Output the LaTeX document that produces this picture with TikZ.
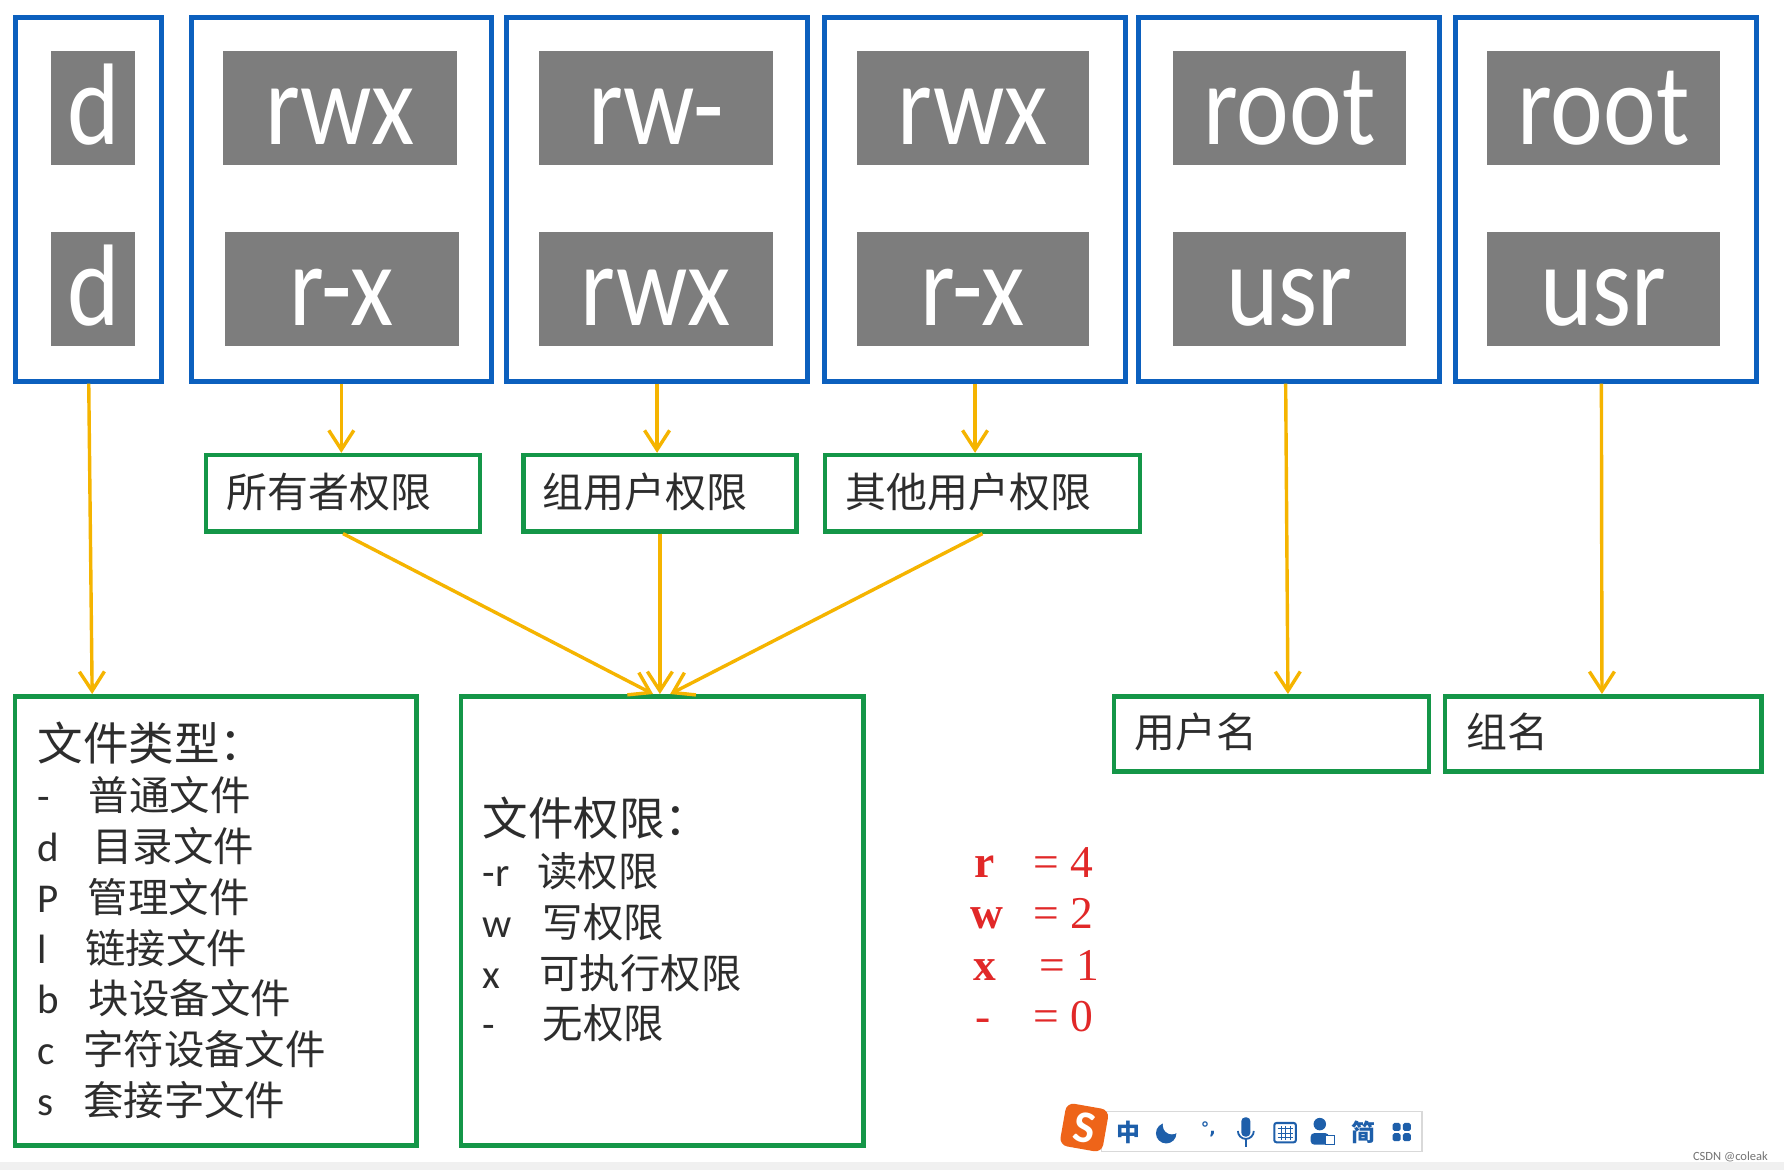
\documentclass[tikz,border=0pt]{standalone}
\usepackage{fontspec}
\setmainfont{Carlito}
\newfontfamily\cjk{Noto Sans CJK SC}
\newfontfamily\tms{Liberation Serif}
\newfontfamily\djv{DejaVu Sans}
\usetikzlibrary{fit,arrows.meta,calc}
\definecolor{bluec}{RGB}{12,96,190}
\definecolor{greenc}{RGB}{20,150,72}
\definecolor{greyc}{RGB}{125,125,125}
\definecolor{arrc}{RGB}{245,180,0}
\definecolor{txtc}{RGB}{45,45,45}
\definecolor{redc}{RGB}{225,40,40}
\definecolor{iconc}{RGB}{30,95,170}
\definecolor{sogou}{RGB}{238,100,25}
\tikzset{
  bluebox/.style={draw=bluec, line width=4.5pt, inner sep=0pt},
  greybox/.style={fill=greyc, inner sep=0pt},
  greenbox/.style={draw=greenc, line width=4pt, inner sep=0pt},
  gtext/.style={text=white, font=\fontsize{102}{102}\selectfont, inner sep=0pt, anchor=base},
  ctext/.style={text=txtc, inner sep=0pt, anchor=base west},
  cjk36/.style={ctext, font=\cjk\fontsize{36}{36}\selectfont},
  cjk40/.style={ctext, font=\cjk\fontsize{40}{40}\selectfont},
  cjk355/.style={ctext, font=\cjk\fontsize{35.5}{35.5}\selectfont},
  lat/.style={ctext, font=\fontsize{36}{36}\selectfont},
  redt/.style={text=redc, inner sep=0pt, anchor=base west, font=\tms\fontsize{40}{40}\selectfont},
  icontxt/.style={text=iconc, inner sep=0pt, font=\cjk\bfseries\fontsize{21}{21}\selectfont},
  arr/.style={draw=arrc, line width=3pt, -{Straight Barb[length=17pt,width=22pt]}}
}
\begin{document}
\begin{tikzpicture}[x=1pt,y=-1pt]
\useasboundingbox (0,0) rectangle (1568,1028.3);
\fill[white] (0,0) rectangle (1568,1028.3);
\fill[black!6] (0,1021) rectangle (1568,1028.3);

% blue outer boxes
\node[bluebox, fit={(14,15) (142,335)}] (b1) {};
\node[bluebox, fit={(168,15) (432,335)}] (b2) {};
\node[bluebox, fit={(445,15) (710,335)}] (b3) {};
\node[bluebox, fit={(725,15) (989,335)}] (b4) {};
\node[bluebox, fit={(1001,15) (1265,335)}] (b5) {};
\node[bluebox, fit={(1279,15) (1544,335)}] (b6) {};

% grey boxes
\node[greybox, fit={(45,45) (119,145)}] (g11) {};
\node[greybox, fit={(45,204) (119,304)}] (g12) {};
\node[greybox, fit={(196,45) (402,145)}] (g21) {};
\node[greybox, fit={(198,204) (403,304)}] (g22) {};
\node[greybox, fit={(474,45) (679,145)}] (g31) {};
\node[greybox, fit={(474,204) (679,304)}] (g32) {};
\node[greybox, fit={(753,45) (957,145)}] (g41) {};
\node[greybox, fit={(753,204) (957,304)}] (g42) {};
\node[greybox, fit={(1031,45) (1236,145)}] (g51) {};
\node[greybox, fit={(1031,204) (1236,304)}] (g52) {};
\node[greybox, fit={(1307,45) (1512,145)}] (g61) {};
\node[greybox, fit={(1307,204) (1512,304)}] (g62) {};

\node[gtext] (t11) at ($(g11.center)+(0,32)$) {\scalebox{0.86}[1]{d}};
\node[gtext] (t12) at ($(g12.center)+(0,32)$) {\scalebox{0.86}[1]{d}};
\node[gtext] (t21) at ($(g21.center)+(0,32)$) {\scalebox{0.86}[1]{rwx}};
\node[gtext] (t22) at ($(g22.center)+(0,32)$) {\scalebox{0.86}[1]{r-x}};
\node[gtext] (t31) at ($(g31.center)+(0,32)$) {\scalebox{0.86}[1]{rw-}};
\node[gtext] (t32) at ($(g32.center)+(0,32)$) {\scalebox{0.86}[1]{rwx}};
\node[gtext] (t41) at ($(g41.center)+(0,32)$) {\scalebox{0.86}[1]{rwx}};
\node[gtext] (t42) at ($(g42.center)+(0,32)$) {\scalebox{0.86}[1]{r-x}};
\node[gtext] (t51) at ($(g51.center)+(0,32)$) {\scalebox{0.86}[1]{root}};
\node[gtext] (t52) at ($(g52.center)+(0,32)$) {\scalebox{0.86}[1]{usr}};
\node[gtext] (t61) at ($(g61.center)+(0,32)$) {\scalebox{0.86}[1]{root}};
\node[gtext] (t62) at ($(g62.center)+(0,32)$) {\scalebox{0.86}[1]{usr}};

% green small boxes
\node[greenbox, fit={(181,400) (422,467)}] (gr1) {};
\node[greenbox, fit={(460,400) (700,467)}] (gr2) {};
\node[greenbox, fit={(725,400) (1002,467)}] (gr3) {};
\node[cjk36] (l1) at (199,446) {所有者权限};
\node[cjk36] (l2) at (477,446) {组用户权限};
\node[cjk36] (l3) at (743,446) {其他用户权限};

% big green boxes
\node[greenbox, fit={(13,612) (366,1007)}] (ft) {};
\node[greenbox, fit={(405,612) (759,1007)}] (fp) {};
\node[greenbox, fit={(979,612) (1256,678)}] (un) {};
\node[greenbox, fit={(1270,612) (1548,678)}] (gn) {};
\node[cjk36] (unt) at (997,657) {用户名};
\node[cjk36] (gnt) at (1289,657) {组名};

% file type text
\node[cjk40] (fth) at (33,668) {文件类型：};
\foreach \l/\cx/\t [count=\i from 0] in {-/78/普通文件, d/81/目录文件, P/77/管理文件, l/75/链接文件, b/78/块设备文件, c/73/字符设备文件, s/73/套接字文件} {
  \node[lat] (ftl\i) at (33,{712+44.8*\i}) {\l};
  \node[cjk355] (ftt\i) at (\cx,{712+44.8*\i}) {\t};
}

% file permission text
\node[cjk40] (fph) at (424,734) {文件权限：};
\foreach \l/\cx/\t [count=\i from 0] in {-r/472/读权限, w/477/写权限, x/474/可执行权限, -/477/无权限} {
  \node[lat] (fpl\i) at (424,{779+44.7*\i}) {\l};
  \node[cjk355] (fpt\i) at (\cx,{779+44.7*\i}) {\t};
}

% red values
\node[redt] (rl1) at (856,771) {\bfseries r};
\node[redt] (rv1) at (908,771) {= 4};
\node[redt] (rl2) at (853,816) {\bfseries w};
\node[redt] (rv2) at (908,816) {= 2};
\node[redt] (rl3) at (855,862) {\bfseries x};
\node[redt] (rv3) at (913,862) {= 1};
\node[redt] (rl4) at (857,907) {-};
\node[redt] (rv4) at (908,907) {= 0};

% arrows
\draw[arr] (b1.south) -- ($(ft.north west)+(70,0)$);
\draw[arr] (b2.south) -- (b2.south |- gr1.north);
\draw[arr] (b3.south) -- (b3.south |- gr2.north);
\draw[arr] (b4.south) -- (b4.south |- gr3.north);
\draw[arr] (gr1.south) -- ($(fp.north)+(-8,0)$);
\draw[arr] (gr2.south) -- ($(fp.north)+(-2,0)$);
\draw[arr] (gr3.south) -- ($(fp.north)+(7,0)$);
\draw[arr] ($(b5.south)+(-3,0)$) -- ($(un.north west)+(155,0)$);
\draw[arr] ($(b6.south)+(-4,0)$) -- ($(gn.north west)+(140,0)$);

% IME toolbar
\draw[black!15, fill=white, line width=1.5pt] (968,977) rectangle (1250,1012);
\node[rotate=-10, fill=sogou, rounded corners=7pt, minimum size=38pt, inner sep=0pt, text=white, font=\bfseries\fontsize{40}{40}\selectfont] (logo) at (953,991) {S};
\node[icontxt] (zh) at (992,995) {中};
\fill[iconc] (1025,996) circle (9);
\fill[white] (1030,989) circle (8);
\node[text=iconc, inner sep=0pt, font=\djv\bfseries\fontsize{15}{15}\selectfont] (pt) at (1062,993) {°,};
\fill[iconc, rounded corners=3.5pt] (1091,982) rectangle (1099,999);
\draw[iconc, line width=1.6pt] (1088,994) arc (180:0:7);
\draw[iconc, line width=1.6pt] (1095,1001) -- (1095,1008);
\draw[iconc, line width=1.8pt, rounded corners=2pt] (1120,987) rectangle (1139,1004);
\draw[iconc, line width=1pt] (1123,992) -- (1136,992) (1123,996) -- (1136,996) (1123,1000) -- (1136,1000) (1126,990) -- (1126,1002) (1130,990) -- (1130,1002) (1134,990) -- (1134,1002);
\fill[iconc] (1160,988) circle (5.5);
\fill[iconc, rounded corners=3pt] (1152,1006) rectangle (1168,996);
\draw[iconc, line width=1.2pt, fill=white] (1165,998) rectangle (1173,1006);
\node[icontxt] (jian) at (1198,995) {简};
\fill[iconc, rounded corners=1.5pt] (1224,987) rectangle (1231,994);
\fill[iconc, rounded corners=1.5pt] (1233,987) rectangle (1240,994);
\fill[iconc, rounded corners=1.5pt] (1224,996) rectangle (1231,1003);
\fill[iconc, rounded corners=1.5pt] (1233,996) rectangle (1240,1003);

\node[anchor=base east, inner sep=0pt, text=black!55, font=\fontsize{11}{11}\selectfont] (wm) at (1554,1020) {CSDN @coleak};
\end{tikzpicture}
\end{document}
